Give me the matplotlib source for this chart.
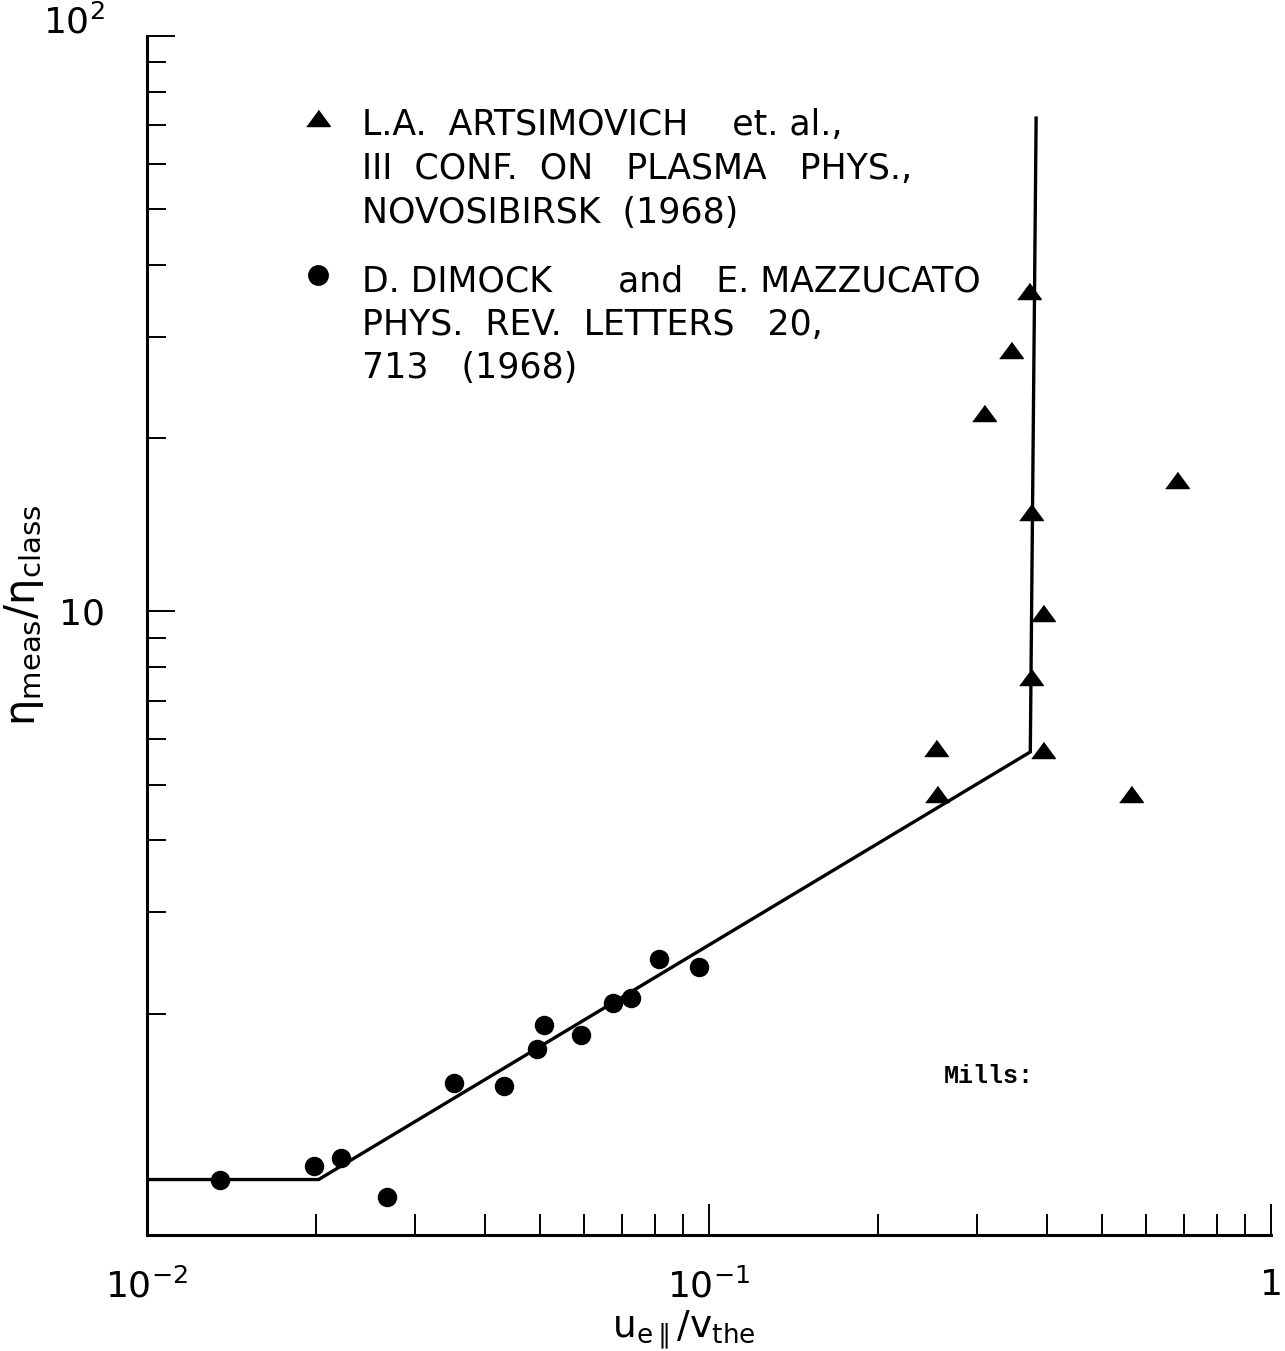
import matplotlib
matplotlib.use("Agg")
import matplotlib.pyplot as plt
import matplotlib.transforms as mtransforms
from matplotlib import font_manager
from matplotlib.ticker import FixedLocator, NullFormatter

# ---- data ----
dimock_x = [0.0135, 0.0198, 0.0221, 0.0267, 0.0352, 0.0431, 0.0495, 0.0509,
            0.0593, 0.0676, 0.0725, 0.0814, 0.0958]
dimock_y = [1.03, 1.088, 1.123, 0.961, 1.516, 1.497, 1.737, 1.912,
            1.837, 2.089, 2.133, 2.49, 2.41]

artsimovich_x = [0.371, 0.344, 0.308, 0.374, 0.393, 0.374, 0.393, 0.253,
                 0.255, 0.563, 0.680]
artsimovich_y = [36.0, 28.5, 22.1, 14.9, 9.94, 7.69, 5.74, 5.79,
                 4.82, 4.82, 16.9]

fit_x = [0.01, 0.0202, 0.373, 0.382]
fit_y = [1.03, 1.03, 5.70, 72.0]

x_major = [0.01, 0.1, 1.0]
x_major_labels = [r"$10^{-2}$", r"$10^{-1}$", "1"]
x_minor = [0.02, 0.03, 0.04, 0.05, 0.06, 0.07, 0.08, 0.09,
           0.2, 0.3, 0.4, 0.5, 0.6, 0.7, 0.8, 0.9]
y_major = [1.03, 10.0, 100.0]
y_major_labels = ["", "10", r"$10^{2}$"]
y_minor = [2, 3, 4, 5, 6, 7, 8, 9, 20, 30, 40, 50, 60, 70, 80, 90]

legend_tri_lines = ["L.A.  ARTSIMOVICH    et. al.,",
                    "III  CONF.  ON   PLASMA   PHYS.,",
                    "NOVOSIBIRSK  (1968)"]
legend_dot_lines = ["D. DIMOCK      and   E. MAZZUCATO",
                    "PHYS.  REV.  LETTERS   20,",
                    "713   (1968)"]

# ---- fonts ----
names = {f.name for f in font_manager.fontManager.ttflist}
txt_font = "Liberation Sans Narrow" if "Liberation Sans Narrow" in names else "DejaVu Sans"
plt.rcParams["font.family"] = [txt_font, "DejaVu Sans"]
plt.rcParams["mathtext.fontset"] = "custom"
plt.rcParams["mathtext.rm"] = txt_font
plt.rcParams["mathtext.it"] = txt_font
plt.rcParams["mathtext.default"] = "regular"

W, H = 1285, 1351
fig = plt.figure(figsize=(W / 100, H / 100), dpi=100)
L, R, T, B = 147, 1271, 36, 1235
ax = fig.add_axes([L / W, 1 - B / H, (R - L) / W, (B - T) / H])

ax.set_xscale("log")
ax.set_yscale("log")
ax.set_xlim(0.01, 1.0)
ax.set_ylim(0.825, 100)

tri = [(-1, -0.68), (1, -0.68), (0, 0.68)]
ax.plot(fit_x, fit_y, color="black", lw=2.4, solid_joinstyle="miter")
ax.plot(dimock_x, dimock_y, linestyle="none", marker="o", ms=13,
        color="black")
ax.plot(artsimovich_x, artsimovich_y, linestyle="none", marker=tri, ms=17,
        color="black")

for s in ["top", "right"]:
    ax.spines[s].set_visible(False)
for s in ["left", "bottom"]:
    ax.spines[s].set_linewidth(2.2)

ax.xaxis.set_major_locator(FixedLocator(x_major))
ax.xaxis.set_minor_locator(FixedLocator(x_minor))
ax.yaxis.set_major_locator(FixedLocator(y_major))
ax.yaxis.set_minor_locator(FixedLocator(y_minor))
ax.set_xticklabels(x_major_labels)
ax.set_yticklabels(y_major_labels)
ax.xaxis.set_minor_formatter(NullFormatter())
ax.yaxis.set_minor_formatter(NullFormatter())

ax.tick_params(which="both", direction="in", width=1.4, labelsize=26,
               top=False, right=False)
ax.tick_params(axis="x", which="major", length=22, pad=24)
ax.tick_params(axis="x", which="minor", length=15)
ax.tick_params(axis="y", which="major", length=20, pad=30)
ax.tick_params(axis="y", which="minor", length=14)

# raise the 10^2 label a little, as in the reference
lab = ax.get_yticklabels()[2]
lab.set_transform(lab.get_transform() +
                  mtransforms.ScaledTranslation(0, 12 / 72, fig.dpi_scale_trans))

ax.set_xlabel(r"$u_{e\parallel}/v_{the}$", fontsize=27, va="center")
ax.xaxis.set_label_coords(0.478, -(1330 - B) / (B - T))
ax.set_ylabel(r"$\eta_{meas}/\eta_{class}$", fontsize=30)
ax.yaxis.set_label_coords(-0.09, 0.517)


def ax_xy(px, py):
    return (px - L) / (R - L), 1 - (py - T) / (B - T)


# legend
mx, my = ax_xy(318, 118)
ax.plot([mx], [my], transform=ax.transAxes, marker=tri, ms=17,
        color="black", clip_on=False)
mx, my = ax_xy(318, 275)
ax.plot([mx], [my], transform=ax.transAxes, marker="o", ms=14,
        color="black", clip_on=False)
for line, py in zip(legend_tri_lines, [125, 169, 213]):
    tx, ty = ax_xy(362, py)
    ax.text(tx, ty, line, transform=ax.transAxes, fontsize=25,
            va="center", ha="left")
for line, py in zip(legend_dot_lines, [281, 325, 368]):
    tx, ty = ax_xy(362, py)
    ax.text(tx, ty, line, transform=ax.transAxes, fontsize=25,
            va="center", ha="left")

tx, ty = ax_xy(944, 1076)
ax.text(tx, ty, "Mills:", transform=ax.transAxes, fontsize=18,
        fontweight="bold", family=["Liberation Mono", "DejaVu Sans Mono"],
        va="center", ha="left")

fig.savefig("out.png", dpi=100)
